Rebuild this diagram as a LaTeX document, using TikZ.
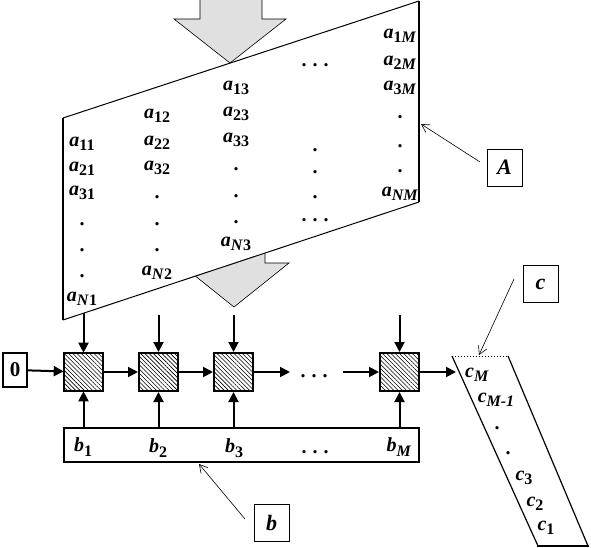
\documentclass[tikz,border=0pt]{standalone}
\usepackage{fontspec}
\setmainfont{Liberation Serif}
\usetikzlibrary{arrows.meta,patterns.meta}
\newcommand\el[2]{{\fontsize{20}{20}\selectfont\bfseries\itshape #1}\raisebox{-4.5pt}{\fontsize{16}{16}\selectfont\bfseries #2}}
\newcommand\mydots{{\fontsize{20}{20}\selectfont\bfseries .\hspace{6pt}.\hspace{6pt}.}}
\newcommand\dt{{\fontsize{20}{20}\selectfont\bfseries .}}
\begin{document}
\begin{tikzpicture}[x=1pt,y=-1pt,
  flow/.style={line width=2pt,-{Triangle[length=10pt,width=10pt]}},
  leader/.style={line width=0.6pt,-{Straight Barb[length=8pt,width=9pt,line width=0.6pt]}},
  pe/.style={draw,line width=2pt,minimum width=39pt,minimum height=38pt,inner sep=0pt,
    pattern={Lines[angle=-45,distance=3pt,line width=0.6pt]}},
  lab/.style={draw,line width=0.8pt,minimum width=35pt,minimum height=37pt,inner sep=0pt,
    font=\fontsize{22}{22}\selectfont\bfseries\itshape},
  ent/.style={inner sep=0pt},
  bigarrow/.style={fill=black!12,draw,line width=0.6pt},
]
\useasboundingbox (0,0) rectangle (591,548);

% lower big arrow (partly hidden by the matrix)
\draw[bigarrow] (203,200) -- (265,200) -- (265,263) -- (289,263) -- (234,307) -- (179,263) -- (203,263) -- cycle;

% matrix A parallelogram
\coordinate (Atl) at (63,118);
\coordinate (Atr) at (419,1);
\coordinate (Abr) at (419,202);
\coordinate (Abl) at (63,320);
\fill[white] (Atl) -- (Atr) -- (Abr) -- (Abl) -- cycle;
\draw[line width=1pt] (Atl) -- (Atr) (Abr) -- (Abl);
\draw[line width=2pt] (Atr) -- (Abr) (Abl) -- (Atl);

% upper big arrow
\fill[black!12] (200,-1) -- (200,19) -- (174,19) -- (230,63) -- (286,19) -- (262,19) -- (262,-1) -- cycle;
\draw[line width=0.6pt] (200,-1) -- (200,19) -- (174,19) -- (230,63) -- (286,19) -- (262,19) -- (262,-1);

% column 1
\node[ent] (a11) at (82,144) {\el{a}{11}};
\node[ent] (a21) at (82,169) {\el{a}{21}};
\node[ent] (a31) at (82,193) {\el{a}{31}};
\node[ent] (d11) at (82,224) {\dt};
\node[ent] (d12) at (82,250) {\dt};
\node[ent] (d13) at (82,276) {\dt};
\node[ent] (aN1) at (82,299) {\el{a}{\textit{N}1}};
% column 2
\node[ent] (a12) at (157,116) {\el{a}{12}};
\node[ent] (a22) at (157,143) {\el{a}{22}};
\node[ent] (a32) at (157,168) {\el{a}{32}};
\node[ent] (d21) at (157,197) {\dt};
\node[ent] (d22) at (157,224) {\dt};
\node[ent] (d23) at (157,250) {\dt};
\node[ent] (aN2) at (157,273) {\el{a}{\textit{N}2}};
% column 3
\node[ent] (a13) at (236,88) {\el{a}{13}};
\node[ent] (a23) at (236,114) {\el{a}{23}};
\node[ent] (a33) at (236,140) {\el{a}{33}};
\node[ent] (d31) at (236,169) {\dt};
\node[ent] (d32) at (236,196) {\dt};
\node[ent] (d33) at (236,222) {\dt};
\node[ent] (aN3) at (236,244) {\el{a}{\textit{N}3}};
% column 4
\node[ent] (e1) at (315,65) {\mydots};
\node[ent] (d41) at (315,150) {\dt};
\node[ent] (d42) at (315,172) {\dt};
\node[ent] (d43) at (315,197) {\dt};
\node[ent] (e2) at (315,220) {\mydots};
% column M
\node[ent] (a1M) at (400,36) {\el{a}{1\textit{M}}};
\node[ent] (a2M) at (400,63) {\el{a}{2\textit{M}}};
\node[ent] (a3M) at (400,88) {\el{a}{3\textit{M}}};
\node[ent] (dM1) at (400,117) {\dt};
\node[ent] (dM2) at (400,146) {\dt};
\node[ent] (dM3) at (400,171) {\dt};
\node[ent] (aNM) at (400,194) {\el{a}{\textit{NM}}};

% processing elements
\node[draw,line width=2pt,minimum width=24pt,minimum height=34pt,inner sep=0pt,
  font=\fontsize{21}{21}\selectfont\bfseries] (z) at (15,370) {0};
\node[pe] (p1) at (83.5,372) {};
\node[pe] (p2) at (158.5,372) {};
\node[pe] (p3) at (233.5,372) {};
\node[pe] (p4) at (399.5,372) {};
\node[ent] (hd) at (314,376) {\mydots};

\coordinate (in1) at (83.5,313);
\coordinate (in2) at (158.5,315);
\coordinate (in3) at (233.5,315);
\coordinate (in4) at (399.5,315);
\draw[flow] (in1) -- (p1);
\draw[flow] (in2) -- (p2);
\draw[flow] (in3) -- (p3);
\draw[flow] (in4) -- (p4);

\coordinate (h1) at (290,372);
\coordinate (h2) at (343,372);
\coordinate (cin) at (456,372);
\draw[flow] (z) -- (p1);
\draw[flow] (p1) -- (p2);
\draw[flow] (p2) -- (p3);
\draw[flow] (p3) -- (h1);
\draw[flow] (h2) -- (p4);
\draw[flow] (p4) -- (cin);

% vector b
\node[draw,line width=2pt,minimum width=355pt,minimum height=34pt,inner sep=0pt] (bv) at (241.5,445) {};
\draw[flow] (p1.south |- bv.north) -- (p1);
\draw[flow] (p2.south |- bv.north) -- (p2);
\draw[flow] (p3.south |- bv.north) -- (p3);
\draw[flow] (p4.south |- bv.north) -- (p4);
\node[ent] (b1) at (83,447) {\el{b}{1}};
\node[ent] (b2) at (158,448) {\el{b}{2}};
\node[ent] (b3) at (234,448) {\el{b}{3}};
\node[ent] (bd) at (315,452) {\mydots};
\node[ent] (bM) at (399,447) {\el{b}{\textit{M}}};

% vector c
\coordinate (ctl) at (452,356);
\coordinate (ctr) at (508,356);
\coordinate (cbr) at (588,546);
\coordinate (cbl) at (538,546);
\draw[line width=1.2pt] (ctl) -- (cbl) (ctr) -- (cbr);
\draw[line width=2pt] ([xshift=-1pt]cbl) -- ([xshift=1pt]cbr);
\draw[line width=1pt,dotted] (ctl) -- (ctr);
\node[ent] (cM) at (477,375) {\el{c}{\textit{M}}};
\node[ent] (cM1) at (496,400) {\el{c}{\textit{M-1}}};
\node[ent] (cd1) at (497,428) {\dt};
\node[ent] (cd2) at (508,453) {\dt};
\node[ent] (c3) at (524,478) {\el{c}{3}};
\node[ent] (c2) at (535,504) {\el{c}{2}};
\node[ent] (c1) at (546,528) {\el{c}{1}};

% callout labels
\node[lab] (LA) at (504.5,167.5) {A};
\node[lab] (Lb) at (271.5,523) {b};
\node[lab] (Lc) at (540.5,284) {c};
\coordinate (LAs) at (480,162);
\coordinate (LAt) at (421,124);
\coordinate (Lbs) at (245,519);
\coordinate (Lbt) at (199,464);
\coordinate (Lcs) at (514,279);
\coordinate (Lct) at (479,355);
\draw[leader] (LAs) -- (LAt);
\draw[leader] (Lbs) -- (Lbt);
\draw[leader] (Lcs) -- (Lct);
\end{tikzpicture}
\end{document}
